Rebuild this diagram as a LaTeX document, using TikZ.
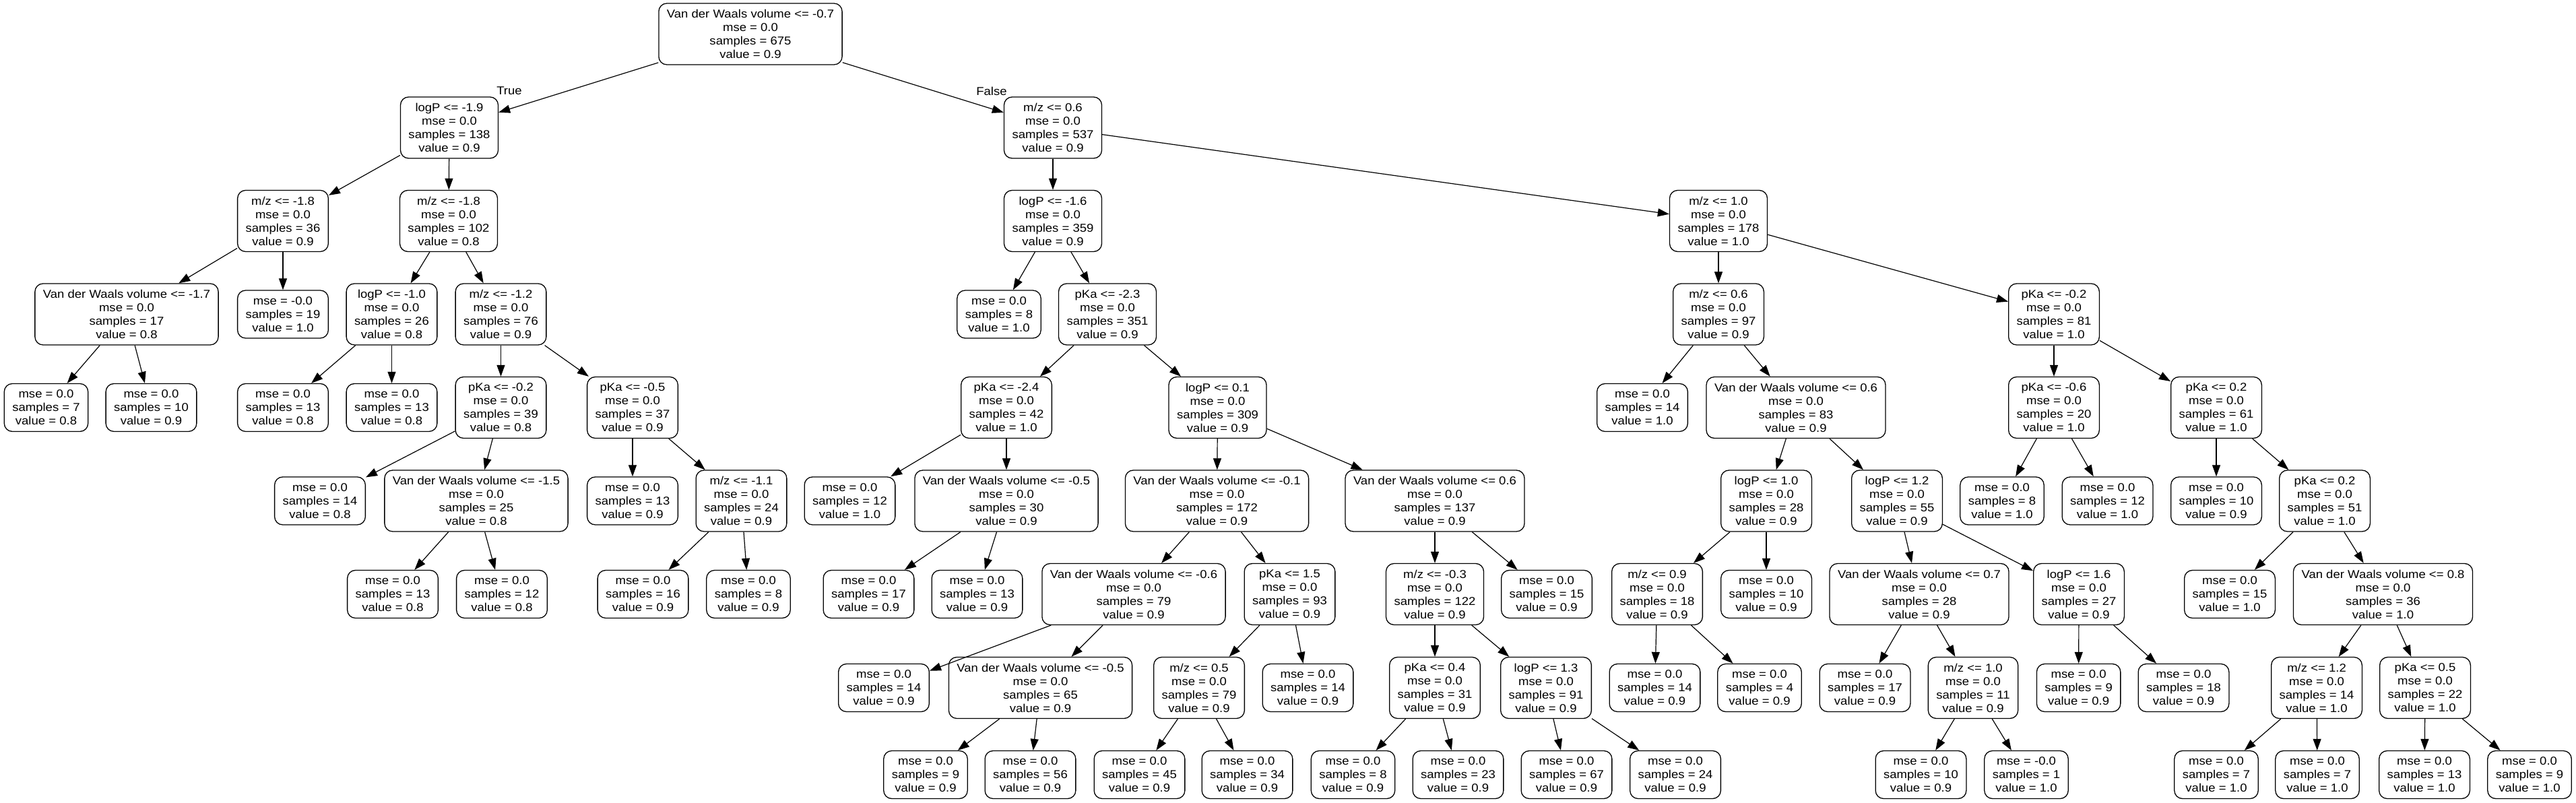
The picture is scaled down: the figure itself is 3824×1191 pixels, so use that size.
\documentclass[tikz,border=0pt]{standalone}
\usepackage{fontspec}
\setmainfont{Liberation Sans}
\newfontfamily\gvfont{Liberation Sans}[FakeStretch=1.09]
\usetikzlibrary{arrows.meta}
\begin{document}
\begin{tikzpicture}[x=1pt,y=-1pt,
  box/.style={draw, rounded corners=12pt, line width=1.3pt, align=center, inner xsep=12pt, inner ysep=0pt, font=\gvfont\fontsize{17}{20}\selectfont},
  inode/.style={box, minimum height=91pt},
  leaf/.style={box, minimum height=71pt},
  lab/.style={font=\gvfont\fontsize{17}{20}\selectfont, inner sep=0pt},
  edge/.style={line width=1.2pt, -{Triangle[length=17pt,width=12pt]}}]
\fill[white] (0,0) rectangle (3824,1191);
\useasboundingbox (0,0) rectangle (3824,1191);
\def\La{50.5}\def\Lb{189.5}\def\Lc{328}\def\Ld{466.5}\def\Le{605}\def\Lf{743.5}\def\Lg{882}\def\Lh{1021}\def\Li{1150}
% level 0
\node[inode] (n0) at (1114,\La) {Van der Waals volume <= -0.7\\mse = 0.0\\samples = 675\\value = 0.9};
% level 1
\node[inode] (a) at (667,\Lb) {logP <= -1.9\\mse = 0.0\\samples = 138\\value = 0.9};
\node[inode] (b) at (1563,\Lb) {m/z <= 0.6\\mse = 0.0\\samples = 537\\value = 0.9};
% level 2
\node[inode] (a1) at (420,\Lc) {m/z <= -1.8\\mse = 0.0\\samples = 36\\value = 0.9};
\node[inode] (a2) at (666,\Lc) {m/z <= -1.8\\mse = 0.0\\samples = 102\\value = 0.8};
\node[inode] (b1) at (1563,\Lc) {logP <= -1.6\\mse = 0.0\\samples = 359\\value = 0.9};
\node[inode] (b2) at (2551,\Lc) {m/z <= 1.0\\mse = 0.0\\samples = 178\\value = 1.0};
% level 3
\node[inode] (a11) at (188,\Ld) {Van der Waals volume <= -1.7\\mse = 0.0\\samples = 17\\value = 0.8};
\node[leaf] (a12) at (420,\Ld) {mse = -0.0\\samples = 19\\value = 1.0};
\node[inode] (a21) at (581.5,\Ld) {logP <= -1.0\\mse = 0.0\\samples = 26\\value = 0.8};
\node[inode] (a22) at (743.5,\Ld) {m/z <= -1.2\\mse = 0.0\\samples = 76\\value = 0.9};
\node[leaf] (b11) at (1483,\Ld) {mse = 0.0\\samples = 8\\value = 1.0};
\node[inode] (b12) at (1644,\Ld) {pKa <= -2.3\\mse = 0.0\\samples = 351\\value = 0.9};
\node[inode] (b21) at (2551,\Ld) {m/z <= 0.6\\mse = 0.0\\samples = 97\\value = 0.9};
\node[inode] (b22) at (3049,\Ld) {pKa <= -0.2\\mse = 0.0\\samples = 81\\value = 1.0};
% level 4
\node[leaf] (a111) at (68.5,\Le) {mse = 0.0\\samples = 7\\value = 0.8};
\node[leaf] (a112) at (224.5,\Le) {mse = 0.0\\samples = 10\\value = 0.9};
\node[leaf] (a211) at (420,\Le) {mse = 0.0\\samples = 13\\value = 0.8};
\node[leaf] (a212) at (581.5,\Le) {mse = 0.0\\samples = 13\\value = 0.8};
\node[inode] (a221) at (743.5,\Le) {pKa <= -0.2\\mse = 0.0\\samples = 39\\value = 0.8};
\node[inode] (a222) at (939,\Le) {pKa <= -0.5\\mse = 0.0\\samples = 37\\value = 0.9};
\node[inode] (b121) at (1494,\Le) {pKa <= -2.4\\mse = 0.0\\samples = 42\\value = 1.0};
\node[inode] (b122) at (1807.5,\Le) {logP <= 0.1\\mse = 0.0\\samples = 309\\value = 0.9};
\node[leaf] (b211) at (2438,\Le) {mse = 0.0\\samples = 14\\value = 1.0};
\node[inode] (b212) at (2666,\Le) {Van der Waals volume <= 0.6\\mse = 0.0\\samples = 83\\value = 0.9};
\node[inode] (b221) at (3049,\Le) {pKa <= -0.6\\mse = 0.0\\samples = 20\\value = 1.0};
\node[inode] (b222) at (3290,\Le) {pKa <= 0.2\\mse = 0.0\\samples = 61\\value = 1.0};
% level 5
\node[leaf] (a2211) at (475,\Lf) {mse = 0.0\\samples = 14\\value = 0.8};
\node[inode] (a2212) at (707,\Lf) {Van der Waals volume <= -1.5\\mse = 0.0\\samples = 25\\value = 0.8};
\node[leaf] (a2221) at (939,\Lf) {mse = 0.0\\samples = 13\\value = 0.9};
\node[inode] (a2222) at (1100.5,\Lf) {m/z <= -1.1\\mse = 0.0\\samples = 24\\value = 0.9};
\node[leaf] (b1211) at (1261.5,\Lf) {mse = 0.0\\samples = 12\\value = 1.0};
\node[inode] (b1212) at (1494,\Lf) {Van der Waals volume <= -0.5\\mse = 0.0\\samples = 30\\value = 0.9};
\node[inode] (b1221) at (1806.5,\Lf) {Van der Waals volume <= -0.1\\mse = 0.0\\samples = 172\\value = 0.9};
\node[inode] (b1222) at (2130,\Lf) {Van der Waals volume <= 0.6\\mse = 0.0\\samples = 137\\value = 0.9};
\node[inode] (b2121) at (2622,\Lf) {logP <= 1.0\\mse = 0.0\\samples = 28\\value = 0.9};
\node[inode] (b2122) at (2816,\Lf) {logP <= 1.2\\mse = 0.0\\samples = 55\\value = 0.9};
\node[leaf] (b2211) at (2972,\Lf) {mse = 0.0\\samples = 8\\value = 1.0};
\node[leaf] (b2212) at (3128.5,\Lf) {mse = 0.0\\samples = 12\\value = 1.0};
\node[leaf] (b2221) at (3290,\Lf) {mse = 0.0\\samples = 10\\value = 0.9};
\node[inode] (b2222) at (3451,\Lf) {pKa <= 0.2\\mse = 0.0\\samples = 51\\value = 1.0};
% level 6
\node[leaf] (c1) at (583,\Lg) {mse = 0.0\\samples = 13\\value = 0.8};
\node[leaf] (c2) at (745,\Lg) {mse = 0.0\\samples = 12\\value = 0.8};
\node[leaf] (c3) at (954.5,\Lg) {mse = 0.0\\samples = 16\\value = 0.9};
\node[leaf] (c4) at (1111,\Lg) {mse = 0.0\\samples = 8\\value = 0.9};
\node[leaf] (c5) at (1289.5,\Lg) {mse = 0.0\\samples = 17\\value = 0.9};
\node[leaf] (c6) at (1450.5,\Lg) {mse = 0.0\\samples = 13\\value = 0.9};
\node[inode] (c7) at (1683,\Lg) {Van der Waals volume <= -0.6\\mse = 0.0\\samples = 79\\value = 0.9};
\node[inode] (c8) at (1914.5,\Lg) {pKa <= 1.5\\mse = 0.0\\samples = 93\\value = 0.9};
\node[inode] (c9) at (2130,\Lg) {m/z <= -0.3\\mse = 0.0\\samples = 122\\value = 0.9};
\node[leaf] (c10) at (2296,\Lg) {mse = 0.0\\samples = 15\\value = 0.9};
\node[inode] (c11) at (2460,\Lg) {m/z <= 0.9\\mse = 0.0\\samples = 18\\value = 0.9};
\node[leaf] (c12) at (2622,\Lg) {mse = 0.0\\samples = 10\\value = 0.9};
\node[inode] (c13) at (2849,\Lg) {Van der Waals volume <= 0.7\\mse = 0.0\\samples = 28\\value = 0.9};
\node[inode] (c14) at (3086,\Lg) {logP <= 1.6\\mse = 0.0\\samples = 27\\value = 0.9};
\node[leaf] (c15) at (3310,\Lg) {mse = 0.0\\samples = 15\\value = 1.0};
\node[inode] (c16) at (3537.5,\Lg) {Van der Waals volume <= 0.8\\mse = 0.0\\samples = 36\\value = 1.0};
% level 7
\node[leaf] (d1) at (1312,\Lh) {mse = 0.0\\samples = 14\\value = 0.9};
\node[inode] (d2) at (1544.5,\Lh) {Van der Waals volume <= -0.5\\mse = 0.0\\samples = 65\\value = 0.9};
\node[inode] (d3) at (1780,\Lh) {m/z <= 0.5\\mse = 0.0\\samples = 79\\value = 0.9};
\node[leaf] (d4) at (1941.5,\Lh) {mse = 0.0\\samples = 14\\value = 0.9};
\node[inode] (d5) at (2130,\Lh) {pKa <= 0.4\\mse = 0.0\\samples = 31\\value = 0.9};
\node[inode] (d6) at (2295,\Lh) {logP <= 1.3\\mse = 0.0\\samples = 91\\value = 0.9};
\node[leaf] (d7) at (2456.5,\Lh) {mse = 0.0\\samples = 14\\value = 0.9};
\node[leaf] (d8) at (2612,\Lh) {mse = 0.0\\samples = 4\\value = 0.9};
\node[leaf] (d9) at (2768.5,\Lh) {mse = 0.0\\samples = 17\\value = 0.9};
\node[inode] (d10) at (2929,\Lh) {m/z <= 1.0\\mse = 0.0\\samples = 11\\value = 0.9};
\node[leaf] (d11) at (3085.6,\Lh) {mse = 0.0\\samples = 9\\value = 0.9};
\node[leaf] (d12) at (3241.5,\Lh) {mse = 0.0\\samples = 18\\value = 0.9};
\node[inode] (d13) at (3439,\Lh) {m/z <= 1.2\\mse = 0.0\\samples = 14\\value = 1.0};
\node[inode] (d14) at (3600,\Lh) {pKa <= 0.5\\mse = 0.0\\samples = 22\\value = 1.0};
% level 8
\node[leaf] (e1) at (1374,\Li) {mse = 0.0\\samples = 9\\value = 0.9};
\node[leaf] (e2) at (1529.5,\Li) {mse = 0.0\\samples = 56\\value = 0.9};
\node[leaf] (e3) at (1691.5,\Li) {mse = 0.0\\samples = 45\\value = 0.9};
\node[leaf] (e4) at (1851.5,\Li) {mse = 0.0\\samples = 34\\value = 0.9};
\node[leaf] (e5) at (2008.5,\Li) {mse = 0.0\\samples = 8\\value = 0.9};
\node[leaf] (e6) at (2164.5,\Li) {mse = 0.0\\samples = 23\\value = 0.9};
\node[leaf] (e7) at (2325.5,\Li) {mse = 0.0\\samples = 67\\value = 0.9};
\node[leaf] (e8) at (2487,\Li) {mse = 0.0\\samples = 24\\value = 0.9};
\node[leaf] (e9) at (2851.5,\Li) {mse = 0.0\\samples = 10\\value = 0.9};
\node[leaf] (e10) at (3008,\Li) {mse = -0.0\\samples = 1\\value = 1.0};
\node[leaf] (e11) at (3290,\Li) {mse = 0.0\\samples = 7\\value = 1.0};
\node[leaf] (e12) at (3440,\Li) {mse = 0.0\\samples = 7\\value = 1.0};
\node[leaf] (e13) at (3599,\Li) {mse = 0.0\\samples = 13\\value = 1.0};
\node[leaf] (e14) at (3755,\Li) {mse = 0.0\\samples = 9\\value = 1.0};
% edge labels
\node[lab] (tlab) at (756,135) {True};
\node[lab] (flab) at (1472,135) {False};
% edges
\foreach \p/\c in {n0/a,n0/b,a/a1,a/a2,b/b1,b/b2,
  a1/a11,a1/a12,a2/a21,a2/a22,b1/b11,b1/b12,b2/b21,b2/b22,
  a11/a111,a11/a112,a21/a211,a21/a212,a22/a221,a22/a222,b12/b121,b12/b122,b21/b211,b21/b212,b22/b221,b22/b222,
  a221/a2211,a221/a2212,a222/a2221,a222/a2222,b121/b1211,b121/b1212,b122/b1221,b122/b1222,b212/b2121,b212/b2122,b221/b2211,b221/b2212,b222/b2221,b222/b2222,
  a2212/c1,a2212/c2,a2222/c3,a2222/c4,b1212/c5,b1212/c6,b1221/c7,b1221/c8,b1222/c9,b1222/c10,b2121/c11,b2121/c12,b2122/c13,b2122/c14,b2222/c15,b2222/c16,
  c7/d1,c7/d2,c8/d3,c8/d4,c9/d5,c9/d6,c11/d7,c11/d8,c13/d9,c13/d10,c14/d11,c14/d12,c16/d13,c16/d14,
  d2/e1,d2/e2,d3/e3,d3/e4,d5/e5,d5/e6,d6/e7,d6/e8,d10/e9,d10/e10,d13/e11,d13/e12,d14/e13,d14/e14}
  {\draw[edge] (\p) -- (\c);}
\end{tikzpicture}
\end{document}
